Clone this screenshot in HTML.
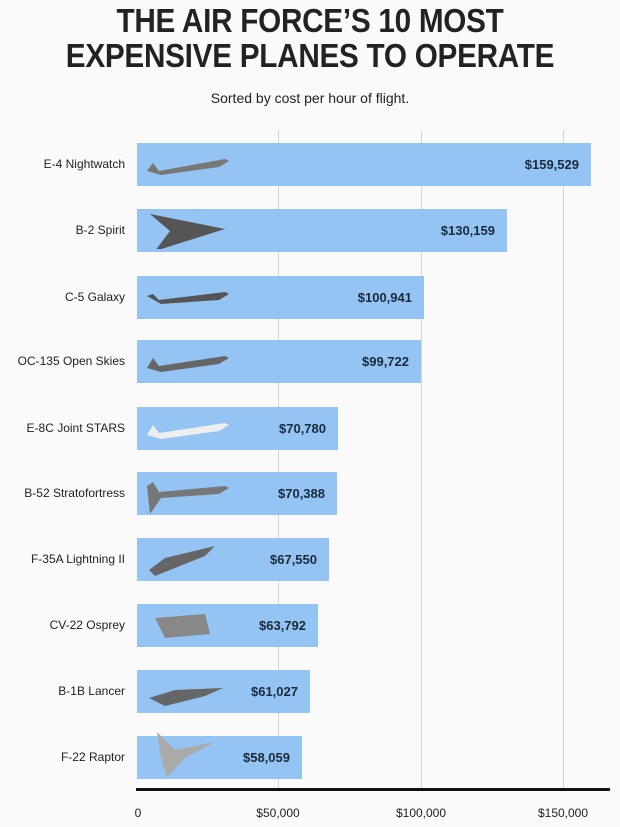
<!DOCTYPE html>
<html><head><style>
body{margin:0;width:620px;height:827px;background:#fafafa;font-family:"Liberation Sans",sans-serif;position:relative;overflow:hidden}
.t{position:absolute;left:0;width:620px;text-align:center;font-weight:bold;font-size:33px;color:#222;transform:scaleX(0.9);letter-spacing:-0.3px}
.sub{position:absolute;top:90px;width:620px;text-align:center;font-size:14px;color:#222}
.g{position:absolute;top:130px;height:659px;width:1px;background:#d4d4d4}
.bar{position:absolute;left:137px;height:43px;background:#94c4f4}
.v{position:absolute;right:12px;top:0;line-height:43px;font-weight:bold;font-size:13px;color:#1a2a3a}
.l{position:absolute;right:495px;font-size:12px;color:#222;line-height:43px;white-space:nowrap}
.ax{position:absolute;top:806px;font-size:12px;color:#222;transform:translateX(-50%)}
.p{position:absolute;left:8px;top:6px}
</style></head><body>
<div class="t" style="top:2px">THE AIR FORCE’S 10 MOST</div>
<div class="t" style="top:37px">EXPENSIVE PLANES TO OPERATE</div>
<div class="sub">Sorted by cost per hour of flight.</div>
<div class="g" style="left:278px"></div>
<div class="g" style="left:421px"></div>
<div class="g" style="left:563px"></div>
<div style="position:absolute;left:136px;top:788px;width:474px;height:3px;background:#111"></div>
<div class="ax" style="left:138px">0</div>
<div class="ax" style="left:278px">$50,000</div>
<div class="ax" style="left:421px">$100,000</div>
<div class="ax" style="left:563px">$150,000</div>

<div class="bar" style="top:143px;width:454px"><svg class="p" width="90" height="32"><path d="M2 22 L8 14 L14 22 L80 10 L84 12 L74 18 L16 26 Z" fill="#777"/></svg><span class="v">$159,529</span></div>
<div class="l" style="top:143px">E-4 Nightwatch</div>
<div class="bar" style="top:209px;width:370px"><svg class="p" width="90" height="40" style="top:0"><path d="M5 5 L80 20 L10 42 L25 22 Z" fill="#555"/></svg><span class="v">$130,159</span></div>
<div class="l" style="top:209px">B-2 Spirit</div>
<div class="bar" style="top:276px;width:287px"><svg class="p" width="90" height="32"><path d="M2 14 L8 12 L14 18 L80 10 L84 12 L74 18 L16 22 Z" fill="#555"/></svg><span class="v">$100,941</span></div>
<div class="l" style="top:276px">C-5 Galaxy</div>
<div class="bar" style="top:340px;width:284px"><svg class="p" width="90" height="32"><path d="M2 22 L8 12 L14 20 L80 10 L84 12 L74 18 L16 26 Z" fill="#666"/></svg><span class="v">$99,722</span></div>
<div class="l" style="top:340px">OC-135 Open Skies</div>
<div class="bar" style="top:407px;width:201px"><svg class="p" width="90" height="32"><path d="M2 22 L8 12 L14 20 L80 10 L84 12 L74 18 L16 26 Z" fill="#eee"/></svg><span class="v">$70,780</span></div>
<div class="l" style="top:407px">E-8C Joint STARS</div>
<div class="bar" style="top:472px;width:200px"><svg class="p" width="90" height="40" style="top:4px"><path d="M2 10 L8 6 L14 16 L80 10 L84 12 L74 18 L16 22 L5 38 Z" fill="#777"/></svg><span class="v">$70,388</span></div>
<div class="l" style="top:472px">B-52 Stratofortress</div>
<div class="bar" style="top:538px;width:192px"><svg class="p" width="80" height="36" style="top:2px"><path d="M4 30 L20 18 L70 6 L60 16 L10 36 Z" fill="#666"/></svg><span class="v">$67,550</span></div>
<div class="l" style="top:538px">F-35A Lightning II</div>
<div class="bar" style="top:604px;width:181px"><svg class="p" width="90" height="40" style="top:0"><path d="M10 14 L60 10 L65 30 L20 34 Z" fill="#888"/></svg><span class="v">$63,792</span></div>
<div class="l" style="top:604px">CV-22 Osprey</div>
<div class="bar" style="top:670px;width:173px"><svg class="p" width="90" height="36"><path d="M4 22 L30 14 L78 12 L60 20 L20 30 Z" fill="#666"/></svg><span class="v">$61,027</span></div>
<div class="l" style="top:670px">B-1B Lancer</div>
<div class="bar" style="top:736px;width:165px"><svg class="p" width="80" height="50" style="top:-8px"><path d="M12 4 L30 22 L70 14 L40 30 L22 50 L16 30 Z" fill="#aaa"/></svg><span class="v">$58,059</span></div>
<div class="l" style="top:736px">F-22 Raptor</div>
</body></html>
